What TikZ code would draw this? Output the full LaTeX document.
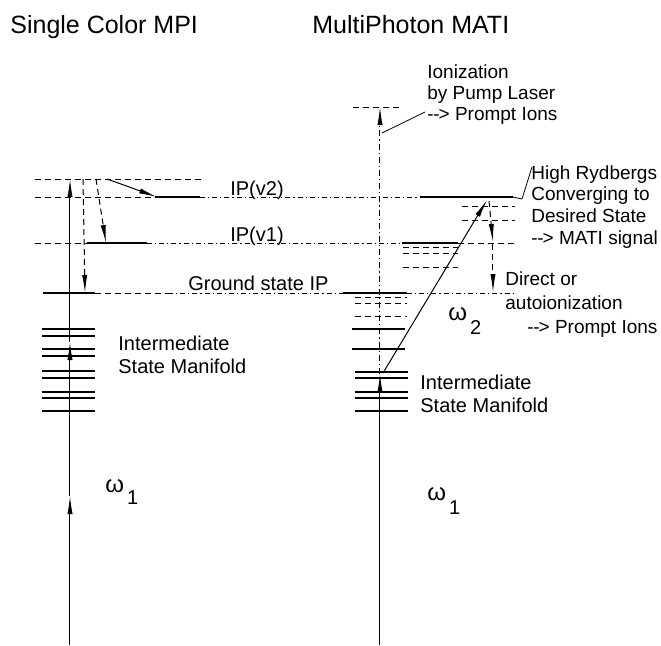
\documentclass[tikz,border=0pt]{standalone}
\usepackage{fontspec}
\setmainfont{Liberation Sans}
\usetikzlibrary{arrows.meta, positioning, calc}

\tikzset{
  level/.style={line width=0.7pt},
  levdash/.style={line width=0.5pt, dash pattern=on 3pt off 2pt},
  levdot/.style={line width=0.4pt, dash pattern=on 2.5pt off 1.5pt on 0.6pt off 1.5pt},
  photon/.style={line width=0.5pt, -{Latex[length=9pt,width=2.6pt]}},
  decay/.style={photon, dash pattern=on 3pt off 2pt},
  lbl/.style={font=\fontsize{10}{11.5}\selectfont, inner sep=0pt, align=left},
  note/.style={lbl, font=\fontsize{9.5}{#1}\selectfont},
  ttl/.style={font=\fontsize{12.5}{15}\selectfont, inner sep=0pt, anchor=base west}
}
\newcommand{\darr}{-\kern-0.2pt-\kern-0.5pt>}
\newcommand{\freq}[2]{{\fontsize{12}{14}\selectfont ω}\kern1.5pt\raisebox{#2}{#1}}

\begin{document}
\begin{tikzpicture}[x=0.5pt, y=-0.5pt]
  \useasboundingbox (0,0) rectangle (661,645);
  % titles
  \node[ttl] (mpi) at (10,33) {Single Color MPI};
  \node[ttl] (mati) at (312,33) {MultiPhoton MATI};

  % ionization limits, running across both schemes
  \draw[levdash] (35,179) -- (203,179);
  \draw[levdash] (35,197) -- (155,197);
  \draw[level] (155,197) -- (200,197);
  \draw[levdot] (200,197) -- (420,197);
  \draw[level] (420,197) -- (513,197);
  \draw[levdash] (35,243) -- (87,243);
  \draw[level] (87,243) -- (147,243);
  \draw[levdot] (147,243) -- (402,243);
  \draw[level] (402,243) -- (458,243);
  \draw[levdash] (458,243) -- (515,243);
  \draw[level] (43,293) -- (95,293);
  \draw[levdash] (95,293) -- (168,293);
  \draw[levdot] (168,293) -- (343,293);
  \draw[level] (343,293) -- (407,293);
  \draw[levdot] (407,293) -- (515,293);
  \draw[levdash] (353,107) -- (402,107);

  % intermediate state manifolds
  \foreach \y in {329,336,349,356,371,378,392,398,411}
    \draw[level] (42,\y) -- (95,\y);
  \foreach \y in {372,378,392,398,411}
    \draw[level] (355,\y) -- (408,\y);
  \foreach \y in {329,349}
    \draw[level] (352,\y) -- (405,\y);

  % rydberg series below each limit
  \foreach \y in {297,303,316}
    \draw[levdash] (355,\y) -- (407,\y);
  \foreach \y in {247,253,267}
    \draw[levdash] (403,\y) -- (458,\y);
  \foreach \y in {206,220}
    \draw[levdash] (462,\y) -- (515,\y);

  % labels (multi-line nodes sit on their last baseline)
  \node[lbl, anchor=base] (ipv2) at (257,195) {IP(v2)};
  \node[lbl, anchor=base] (ipv1) at (257,241) {IP(v1)};
  \node[lbl, anchor=base west] (gsip) at (188,290) {Ground state IP};
  \node[lbl, anchor=base west] (manl) at (118,373) {Intermediate\\State Manifold};
  \node[lbl, anchor=base west] (manr) at (420,412) {Intermediate\\State Manifold};
  \node[note=10.3, anchor=base west] (ion) at (427,120) {Ionization\\by Pump Laser\\\darr{} Prompt Ions};
  \node[note=10.8, anchor=base west] (ryd) at (531,244) {High Rydbergs\\Converging to\\Desired State\\\darr{} MATI signal};
  \node[note=12, anchor=base west] (auto) at (505,333) {Direct or\\autoionization\\\hspace{11pt}\darr{} Prompt Ions};
  \node[lbl, anchor=base west] (w1l) at (105,492) {\freq{1}{-6pt}};
  \node[lbl, anchor=base west] (w1r) at (427,500) {\freq{1}{-7pt}};
  \node[lbl, anchor=base west] (w2) at (448,320) {\freq{2}{-7pt}};

  % single color MPI
  \coordinate (lbot) at (70,645);
  \coordinate (lmid) at (70,496);
  \coordinate (lint) at (70,342);
  \coordinate (ltop) at (70,179);
  \draw[photon] (lbot) -- (lmid);
  \draw[photon] (lmid) -- (lint);
  \draw[photon] (lint) -- (ltop);
  \coordinate (lda) at (83,179);
  \coordinate (ldb) at (85,293);
  \draw[decay] (lda) -- (ldb);
  \coordinate (ldc) at (96,179);
  \coordinate (ldd) at (106,243);
  \draw[decay] (ldc) -- (ldd);
  \coordinate (lde) at (107,179);
  \coordinate (ldf) at (157,197);
  \draw[photon] (lde) -- (ldf);

  % multiphoton MATI
  \coordinate (rbot) at (380,645);
  \coordinate (rint) at (380,374);
  \coordinate (rtop) at (380,107);
  \draw[photon] (rbot) -- (rint);
  \draw[photon, dash pattern=on 3pt off 1.5pt on 0.6pt off 1.5pt] (rint) -- (rtop);
  \coordinate (wsa) at (383,373);
  \coordinate (wsb) at (487,200);
  \draw[photon] (wsa) -- (wsb);
  \coordinate (rda) at (489,201);
  \coordinate (rdb) at (493,242);
  \draw[decay] (rda) -- (rdb);
  \coordinate (rdc) at (493,244);
  \coordinate (rdd) at (493,292);
  \draw[decay] (rdc) -- (rdd);

  % leaders
  \coordinate (iona) at (382,133);
  \coordinate (ionb) at (425,112);
  \draw[line width=0.4pt] (iona) -- (ionb);
  \coordinate (ryda) at (513,197);
  \coordinate (rydb) at (522,199);
  \coordinate (rydc) at (532,167);
  \draw[line width=0.4pt] (ryda) -- (rydb) -- (rydc);
\end{tikzpicture}
\end{document}
